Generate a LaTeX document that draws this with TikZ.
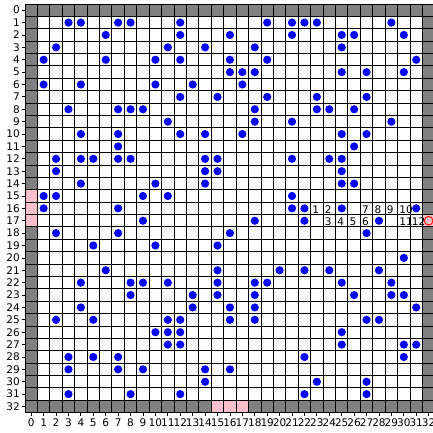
\documentclass[tikz,border=0pt]{standalone}
\usepackage{fontspec}
\setmainfont{DejaVu Sans}
\definecolor{wallgray}{HTML}{808080}
\definecolor{pinkcell}{HTML}{FFC0CB}
\definecolor{dotblue}{HTML}{0000FF}
\begin{document}
\begin{tikzpicture}[x=1pt,y=-1pt,
  gridline/.style={black,line width=0.9pt},
  tickline/.style={black,line width=0.8pt},
  ticklab/.style={inner sep=0pt,font=\fontsize{10.5}{12}\selectfont},
  steplab/.style={inner sep=0pt,anchor=base west,font=\fontsize{10.5}{12}\selectfont},
  obstacle/.style={fill=dotblue},
  goalring/.style={draw=red,line width=0.9pt}]
\useasboundingbox (0,0) rectangle (433,432);
\def\sx{12.42}\def\sy{12.385}\def\ox{25}\def\oy{4}
% background
\fill[white] (\ox,\oy) rectangle +({33*\sx},{33*\sy});
% walls
\fill[wallgray] (\ox,\oy) rectangle +({33*\sx},\sy);
\fill[wallgray] (\ox,{\oy+32*\sy}) rectangle +({33*\sx},\sy);
\fill[wallgray] (\ox,\oy) rectangle +(\sx,{33*\sy});
\fill[wallgray] ({\ox+32*\sx},\oy) rectangle +(\sx,{33*\sy});
% openings
\foreach \r in {15,16,17} {\fill[pinkcell] (\ox,{\oy+\r*\sy}) rectangle +(\sx,\sy);}
\foreach \c in {15,16,17} {\fill[pinkcell] ({\ox+\c*\sx},{\oy+32*\sy}) rectangle +(\sx,\sy);}
\fill[pinkcell] ({\ox+32*\sx},{\oy+17*\sy}) rectangle +(\sx,\sy);
% grid
\foreach \k in {0,...,33} {
  \draw[gridline] ({\ox+\k*\sx},\oy) -- ({\ox+\k*\sx},{\oy+33*\sy});
  \draw[gridline] (\ox,{\oy+\k*\sy}) -- ({\ox+33*\sx},{\oy+\k*\sy});
}
% obstacles
\foreach \r/\cl in {
 1/{3,4,7,8,12,19,21,22,23,29},
 2/{6,12,16,21,25,26,30},
 3/{2,11,14,18,25},
 4/{1,6,10,12,16,19,31},
 5/{16,17,18,25,27,30},
 6/{1,4,10,13,17},
 7/{12,15,19,23,27},
 8/{3,7,8,9,18,23,24,26},
 9/{11,18,21,29},
 10/{4,7,12,14,17,25,27},
 11/{7,26},
 12/{2,4,5,7,8,14,15,21,24,25},
 13/{2,14,15,25},
 14/{4,10,14,25,26},
 15/{1,2,9,11,21},
 16/{1,7,21,22,25,31},
 17/{9,18,22,28},
 18/{2,7,16,27},
 19/{5,10,15},
 20/{30},
 21/{6,15,20,22,24,28},
 22/{4,8,9,11,15,18,19,25,29},
 23/{8,13,15,18,26,29,30},
 24/{4,13,16,18,31},
 25/{2,5,11,12,16,18,27,28},
 26/{10,11,12,25},
 27/{11,12,25,30,31},
 28/{3,5,7,22,30},
 29/{3,7,9,14,16},
 30/{14,23,27},
 31/{3,8,12,22,27}} {
  \foreach \c in \cl {
    \fill[obstacle] ({\ox+\sx*(\c+0.5)},{\oy+\sy*(\r+0.5)}) circle (4.1);
  }
}
% goal ring
\draw[goalring] ({\ox+\sx*32.5},{\oy+\sy*17.5}) circle (4.3);
% path step labels
\foreach \n/\c/\r in {1/23/16,2/24/16,3/24/17,4/25/17,5/26/17,6/27/17,7/27/16,8/28/16,9/29/16,10/30/16,11/30/17,12/31/17} {
  \node[steplab] (s\n) at ({\ox+\sx*(\c+0.5)-4.6},{\oy+\sy*(\r+0.5)+5.0}) {\n};
}
% ticks and tick labels
\foreach \k in {0,...,32} {
  \draw[tickline] ({\ox-3.5},{\oy+\sy*(\k+0.5)}) -- (\ox,{\oy+\sy*(\k+0.5)});
  \node[ticklab,anchor=base east] (yl\k) at ({\ox-5},{\oy+\sy*(\k+0.5)+3.8}) {\k};
  \draw[tickline] ({\ox+\sx*(\k+0.5)},{\oy+33*\sy}) -- ({\ox+\sx*(\k+0.5)},{\oy+33*\sy+3.5});
  \node[ticklab,anchor=base] (xl\k) at ({\ox+\sx*(\k+0.5)},426.6) {\k};
}
\end{tikzpicture}
\end{document}
